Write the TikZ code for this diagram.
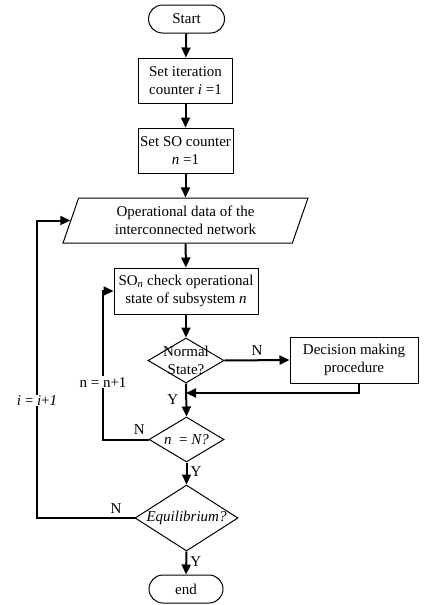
\documentclass[tikz,border=0pt]{standalone}
\usepackage{fontspec}
\setmainfont{Liberation Serif}
\usetikzlibrary{arrows.meta,shapes.geometric,shapes.misc}
\begin{document}
\begin{tikzpicture}[x=1pt,y=-1pt,
  font=\fontsize{15}{18}\selectfont,
  box/.style={draw, line width=1pt, align=center, inner sep=1pt},
  term/.style={draw, line width=1pt, rounded rectangle, minimum width=78pt, minimum height=28pt, inner sep=1pt},
  dec/.style={draw, line width=1pt, diamond, inner sep=0pt},
  io/.style={draw, line width=1pt, trapezium, trapezium left angle=63, trapezium right angle=117, trapezium stretches body, align=center, inner sep=1pt},
  arr/.style={line width=2pt, -{Triangle[length=10pt,width=9pt]}},
  lbl/.style={inner sep=1pt}
]
\useasboundingbox (0,0) rectangle (423,605);

\node[term] (start) at (186.5,19) {Start};
\node[box, minimum width=94pt, minimum height=45pt] (b1) at (185.5,80.5) {Set iteration\\counter \textit{i} =1};
\node[box, minimum width=95pt, minimum height=45pt] (b2) at (185.5,150.5) {Set SO counter\\\textit{n} =1};
\node[io, minimum width=245pt, minimum height=45pt] (para) at (185.5,220.5) {Operational data of the\\interconnected network};
\node[box, minimum width=144pt, minimum height=46pt] (b3) at (186,291) {SO\textsubscript{\textit{n}} check operational\\state of subsystem \textit{n}};
\node[dec, minimum width=76pt, minimum height=45pt, label={[align=center]center:Normal\\State?}] (d1) at (186,360.5) {};
\node[box, minimum width=128pt, minimum height=46pt] (dm) at (354,360) {Decision making\\procedure};
\node[dec, minimum width=75pt, minimum height=45pt, label={center:\textit{n}\ \ =\ \textit{N?}}] (d2) at (186.5,439.5) {};
\node[dec, minimum width=103pt, minimum height=66pt, label={center:\textit{Equilibrium?}}] (d3) at (186.5,518) {};
\node[term, minimum width=76pt] (end) at (186,589) {end};

\coordinate (lx) at (103,0);
\coordinate (llx) at (37,0);
\coordinate (jy) at (0,393);

\draw[arr] (start) -- (b1);
\draw[arr] (b1) -- (b2);
\draw[arr] (b2) -- (para);
\draw[arr] (para) -- (b3);
\draw[arr] (b3) -- (d1);
\draw[arr] (d1.east) -- node[lbl, above, yshift=3pt] {N} (dm.west);
\draw[arr] ([xshift=5pt]dm.south) -- ([xshift=5pt]dm.south |- jy) -- (d1.south |- jy);
\draw[arr] (d1.south) -- node[lbl, left, pos=0.5, xshift=-6pt] {Y} (d2.north);
\draw[arr] (d2.south) -- node[lbl, right, pos=0.43, xshift=2pt] {Y} (d3.north);
\draw[arr] (d3.south) -- node[lbl, right, pos=0.45, xshift=2pt] {Y} (end.north);
\draw[arr] (d2.west) -- node[lbl, above, pos=0.2, yshift=3pt] {N} (d2.west -| lx)
  -- node[lbl, fill=white, pos=0.385] {n = n+1} (b3.west -| lx) -- (b3.west);
\draw[arr] (d3.west) -- node[lbl, above, pos=0.19, yshift=3pt] {N} (d3.west -| llx)
  -- node[lbl, fill=white, pos=0.395] {\textit{i} = \textit{i}+\textit{1}} (para.west -| llx) -- (para.west);
\end{tikzpicture}
\end{document}
